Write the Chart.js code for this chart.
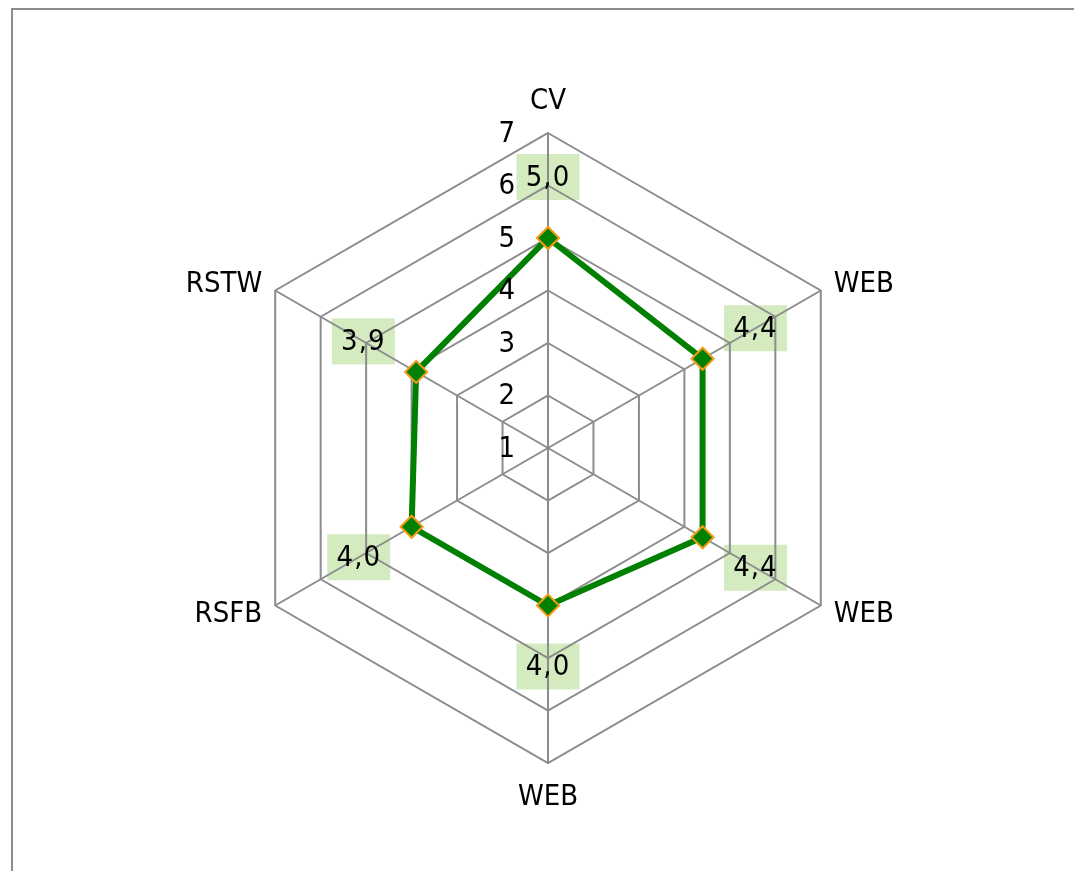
<!DOCTYPE html>
<html>
<head>
<meta charset="utf-8">
<script src="https://cdn.jsdelivr.net/npm/chart.js@4"></script>
<style>
  html, body { margin: 0; padding: 0; background: #fff; overflow: hidden; }
  #wrap { position: relative; width: 1074px; height: 871px; }
  #frame { position: absolute; left: 11px; top: 8px; width: 1100px; height: 900px;
           border-top: 2px solid #8c8c8c; border-left: 2px solid #8c8c8c; }
  canvas { position: absolute; left: 0; top: 0; }
</style>
</head>
<body>
<div id="wrap">
  <div id="frame"></div>
  <canvas id="radar-chart" width="1074" height="871"></canvas>
</div>
<script>
const axisLabels = ['CV', 'WEB', 'WEB', 'WEB', 'RSFB', 'RSTW'];
const scores = [5.0, 4.4, 4.4, 4.0, 4.0, 3.9];
const tickValues = [1, 2, 3, 4, 5, 6, 7];

const FONT = '"Liberation Sans Narrow", "DejaVu Sans Condensed", "Liberation Sans", sans-serif';
const FONT_SIZE = 29;

// labels, tick numbers and value boxes drawn by hand so they sit like the original
const radarText = {
  id: 'radarText',
  beforeDraw(chart) {
    const ctx = chart.ctx;
    const r = chart.scales.r;
    ctx.save();
    ctx.fillStyle = '#d4ebc0';
    scores.forEach((v, i) => {
      const p = r.getPointPosition(i, r.getDistanceFromCenterForValue(v) + 61);
      ctx.fillRect(p.x - 31.5, p.y - 23, 63, 46);
    });
    ctx.restore();
  },
  afterDraw(chart) {
    const ctx = chart.ctx;
    const r = chart.scales.r;
    ctx.save();
    ctx.font = FONT_SIZE + 'px ' + FONT;
    ctx.fillStyle = '#000';
    ctx.textBaseline = 'middle';

    // value labels
    ctx.textAlign = 'center';
    ctx.letterSpacing = '1px';
    scores.forEach((v, i) => {
      const p = r.getPointPosition(i, r.getDistanceFromCenterForValue(v) + 61);
      ctx.fillText(v.toFixed(1).replace('.', ','), p.x, p.y + 1);
    });
    ctx.letterSpacing = '0px';

    // tick numbers, left of the vertical axis
    ctx.textAlign = 'right';
    tickValues.forEach(t => {
      const y = r.yCenter - r.getDistanceFromCenterForValue(t);
      ctx.fillText(String(t), r.xCenter - 33, y + 1);
    });

    // category labels
    axisLabels.forEach((lab, i) => {
      const edge = r.getPointPosition(i, r.drawingArea);
      const dx = edge.x - r.xCenter;
      if (Math.abs(dx) < 1) {
        const p = r.getPointPosition(i, r.drawingArea + 33);
        ctx.textAlign = 'center';
        ctx.fillText(lab, p.x, p.y + 1);
      } else {
        const p = r.getPointPosition(i, r.drawingArea + 15);
        ctx.textAlign = dx > 0 ? 'left' : 'right';
        ctx.fillText(lab, p.x, p.y + 1);
      }
    });
    ctx.restore();
  }
};

const ctx = document.getElementById('radar-chart').getContext('2d');
new Chart(ctx, {
  type: 'radar',
  data: {
    labels: axisLabels,
    datasets: [{
      data: scores,
      borderColor: '#008000',
      borderWidth: 6,
      fill: false,
      tension: 0,
      pointStyle: 'rectRot',
      pointRadius: 11,
      pointBackgroundColor: '#008000',
      pointBorderColor: '#f29a11',
      pointBorderWidth: 2
    }]
  },
  options: {
    responsive: false,
    animation: false,
    layout: { padding: { left: 233, right: 211, top: 133, bottom: 108 } },
    scales: {
      r: {
        min: 1,
        max: 7,
        ticks: { display: false, stepSize: 1 },
        pointLabels: { display: false },
        grid: { color: '#8c8c8c', lineWidth: 2 },
        angleLines: { color: '#8c8c8c', lineWidth: 2 }
      }
    },
    plugins: {
      legend: { display: false },
      tooltip: { enabled: false }
    }
  },
  plugins: [radarText]
});
</script>
</body>
</html>
